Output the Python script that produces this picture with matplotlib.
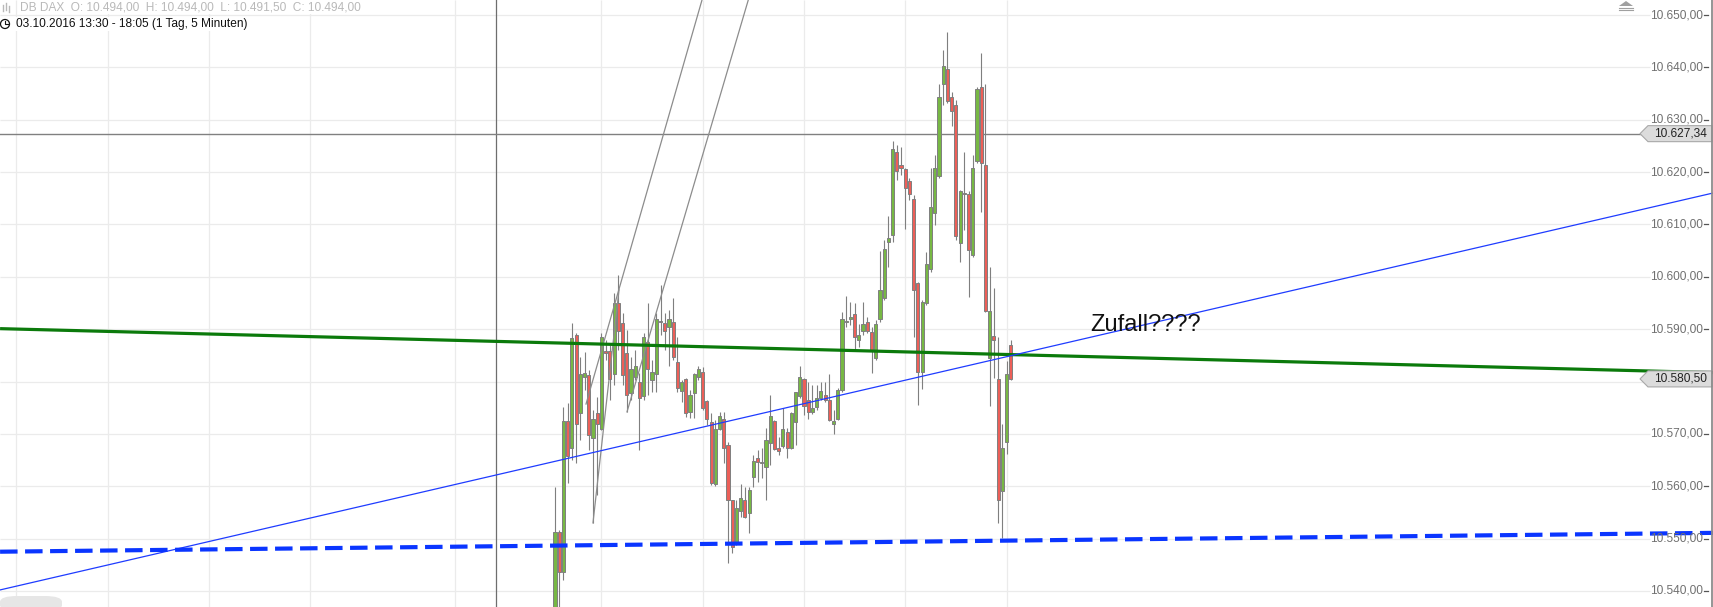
import numpy as np
import matplotlib
matplotlib.use('Agg')
import matplotlib.pyplot as plt
import matplotlib.transforms as mtransforms
from matplotlib.patches import Polygon, Ellipse, FancyBboxPatch

plt.rcParams['font.family'] = ['Liberation Sans', 'DejaVu Sans']

W, H = 1713, 607

# 5 minute candles of DB DAX, index 0 = first candle on the chart
opens = [
    10532.0, 10551.3, 10543.6, 10572.5, 10567.3, 10588.9, 10574.0, 10580.9, 10581.3, 10569.2,
    10574.0, 10571.0, 10585.9, 10585.9, 10581.5, 10595.0, 10591.2, 10585.5, 10577.8, 10580.9,
    10579.9, 10577.3, 10587.6, 10580.3, 10581.5, 10591.4, 10591.2, 10590.4, 10591.4, 10583.8,
    10578.2, 10580.5, 10574.2, 10577.8, 10580.9, 10581.8, 10576.3, 10572.3, 10560.5, 10571.0,
    10572.9, 10567.9, 10557.4, 10549.2, 10555.3, 10557.4, 10554.9, 10561.8, 10565.4, 10564.4,
    10563.7, 10568.3, 10572.5, 10567.3, 10567.7, 10570.4, 10567.3, 10572.3, 10577.3, 10580.5,
    10576.5, 10574.2, 10575.2, 10576.9, 10577.5, 10576.5, 10571.9, 10572.9, 10578.4, 10591.4,
    10592.0, 10592.9, 10588.0, 10589.7, 10591.4, 10589.5, 10584.5, 10592.0, 10596.0, 10606.7,
    10608.0, 10623.9, 10621.4, 10620.6, 10618.3, 10614.9, 10598.8, 10581.8, 10595.0, 10601.5,
    10612.2, 10619.3, 10636.9, 10639.7, 10634.4, 10632.8, 10606.5, 10615.9, 10615.8, 10604.2,
    10622.2, 10636.3, 10621.4, 10584.5, 10588.7, 10580.5, 10559.1, 10568.5, 10587.0]
highs = [
    10559.9, 10551.7, 10575.2, 10575.9, 10591.2, 10589.3, 10584.7, 10585.7, 10582.2, 10574.6,
    10577.1, 10589.3, 10588.0, 10587.0, 10597.0, 10600.4, 10593.1, 10589.9, 10584.7, 10586.0,
    10581.7, 10589.3, 10595.0, 10584.1, 10593.1, 10598.5, 10593.1, 10593.7, 10596.0, 10588.5,
    10580.3, 10580.7, 10578.4, 10581.7, 10583.0, 10582.8, 10576.5, 10574.0, 10572.7, 10574.2,
    10574.2, 10568.5, 10557.4, 10557.4, 10560.4, 10559.9, 10559.9, 10566.0, 10566.9, 10567.3,
    10571.2, 10577.5, 10572.7, 10569.5, 10575.0, 10571.2, 10574.2, 10578.0, 10583.0, 10580.7,
    10579.9, 10579.4, 10579.4, 10579.9, 10579.9, 10581.5, 10574.6, 10578.8, 10593.3, 10596.4,
    10595.2, 10595.0, 10591.0, 10595.2, 10592.4, 10590.4, 10591.8, 10605.0, 10607.1, 10611.6,
    10626.0, 10625.2, 10624.8, 10620.8, 10618.9, 10615.7, 10599.0, 10595.6, 10604.8, 10620.8,
    10623.3, 10636.9, 10643.3, 10646.8, 10635.3, 10633.8, 10616.6, 10623.9, 10616.4, 10623.3,
    10636.3, 10642.8, 10636.9, 10601.9, 10597.9, 10588.5, 10571.9, 10583.9, 10587.9]
lows = [
    10530.0, 10532.0, 10542.1, 10560.6, 10565.0, 10564.5, 10568.9, 10578.4, 10566.9, 10553.0,
    10558.4, 10570.8, 10584.1, 10576.5, 10579.4, 10586.0, 10579.4, 10574.2, 10576.5, 10580.3,
    10566.9, 10576.5, 10577.5, 10578.0, 10578.0, 10588.9, 10586.0, 10583.0, 10584.1, 10578.0,
    10576.1, 10573.3, 10573.1, 10573.1, 10580.3, 10574.6, 10571.7, 10560.3, 10560.1, 10570.8,
    10564.5, 10545.4, 10547.3, 10548.8, 10554.2, 10554.0, 10551.1, 10559.9, 10560.8, 10561.6,
    10557.4, 10564.1, 10566.9, 10566.0, 10567.3, 10565.4, 10567.1, 10567.9, 10576.9, 10573.6,
    10572.9, 10573.8, 10574.6, 10576.5, 10576.1, 10572.5, 10570.0, 10572.7, 10578.0, 10590.4,
    10590.8, 10586.0, 10586.6, 10588.9, 10589.3, 10581.7, 10584.1, 10591.4, 10595.6, 10601.9,
    10606.7, 10618.5, 10619.5, 10609.2, 10614.7, 10588.5, 10575.5, 10578.6, 10594.6, 10600.9,
    10609.9, 10618.9, 10632.8, 10633.2, 10628.8, 10607.1, 10602.9, 10609.0, 10596.2, 10603.8,
    10621.8, 10612.4, 10593.3, 10575.3, 10580.7, 10553.0, 10550.1, 10566.2, 10580.3]
closes = [
    10551.3, 10543.6, 10572.5, 10565.8, 10588.3, 10571.9, 10581.5, 10581.7, 10569.8, 10572.9,
    10571.9, 10588.5, 10585.5, 10580.5, 10595.0, 10589.7, 10581.3, 10577.5, 10582.4, 10583.0,
    10576.9, 10588.5, 10582.4, 10581.8, 10592.0, 10591.6, 10589.7, 10592.0, 10584.7, 10578.8,
    10579.9, 10574.0, 10577.5, 10581.5, 10582.4, 10575.0, 10572.9, 10560.6, 10571.0, 10573.4,
    10567.3, 10557.4, 10548.4, 10555.9, 10557.8, 10554.2, 10559.3, 10564.9, 10564.7, 10564.6,
    10568.9, 10573.4, 10567.1, 10566.8, 10571.0, 10567.3, 10574.0, 10578.0, 10580.9, 10575.4,
    10574.2, 10575.0, 10576.9, 10578.2, 10576.5, 10572.7, 10572.5, 10578.4, 10592.0, 10591.5,
    10592.4, 10588.5, 10588.9, 10591.0, 10589.7, 10585.9, 10591.0, 10597.5, 10605.3, 10607.4,
    10624.4, 10620.2, 10620.8, 10617.0, 10615.8, 10597.5, 10581.8, 10595.2, 10602.5, 10613.4,
    10620.8, 10634.4, 10640.3, 10633.6, 10631.7, 10607.8, 10616.4, 10615.8, 10605.1, 10620.8,
    10635.9, 10621.8, 10593.5, 10593.5, 10588.0, 10557.4, 10567.3, 10581.5, 10580.5]

price_ticks = [10540, 10550, 10560, 10570, 10580, 10590, 10600, 10610, 10620, 10630, 10640, 10650]
time_grid = [-127.7, -105.9, -82.0, -58.1, -23.7, 11, 35, 59, 83, 107]

# drawings on the chart, (candle index, price)
green_x, green_y = [-131.5, 274.4], [10590.1, 10581.7]
blue_x, blue_y = [-131.5, 274.4], [10540.2, 10616.0]
dash_x, dash_y = [-131.5, 274.4], [10547.5, 10551.1]
chan1_x, chan1_y = [7.35, 36.2], [10575.7, 10656.7]
chan2_x, chan2_y = [17.06, 47.2], [10574.2, 10656.7]
legA_x, legA_y = [9.0, 15.17], [10553.0, 10597.5]
cross_x, cross_y = -14.0, 10627.34
green_label = 10580.50
note_x, note_y = 126.8, 10589.7

header1 = "DB DAX  O: 10.494,00  H: 10.494,00  L: 10.491,50  C: 10.494,00"
header2 = "03.10.2016 13:30 - 18:05 (1 Tag, 5 Minuten)"


def de_fmt(v):
    s = f"{v:,.2f}"
    return s.replace(',', 'X').replace('.', ',').replace('X', '.')


fig = plt.figure(figsize=(W / 100, H / 100), dpi=100)
ax = fig.add_axes([0, 0, 1, 1])
ax.set_xlim(-555 / 4.22, (W - 555) / 4.22)
ax.set_ylim(10536.94, 10652.865)
ax.axis('off')
trans = mtransforms.blended_transform_factory(ax.transAxes, ax.transData)

# grid
ax.hlines(price_ticks, 0, 1650 / W, transform=trans, color='#ebebeb', lw=0.9, zorder=0)
ax.vlines(time_grid, 10536.94, 10652.865, color='#ebebeb', lw=0.9, zorder=0)

# candles
o = np.array(opens)
c = np.array(closes)
x = np.arange(len(o))
up = c >= o
bottoms = np.minimum(o, c)
heights = np.maximum(np.abs(c - o), 0.25)
ax.vlines(x, lows, highs, color='#7f7f7f', lw=0.8, zorder=2)
ax.bar(x[up], heights[up], bottom=bottoms[up], width=0.74, color='#77b844',
       edgecolor='#7f7f7f', linewidth=0.7, zorder=3)
ax.bar(x[~up], heights[~up], bottom=bottoms[~up], width=0.74, color='#ec5f58',
       edgecolor='#7f7f7f', linewidth=0.7, zorder=3)

# crosshair
ax.axvline(cross_x, color='#6e6e6e', lw=0.9, zorder=1)
ax.plot([0, 1641 / W], [cross_y, cross_y], transform=trans, color='#808080', lw=1.0, zorder=1)

# drawn lines
ax.plot(chan1_x, chan1_y, color='#8c8c8c', lw=0.9, zorder=4)
ax.plot(chan2_x, chan2_y, color='#8c8c8c', lw=0.9, zorder=4)
ax.plot(legA_x, legA_y, color='#8c8c8c', lw=0.9, zorder=4)
ax.plot(green_x, green_y, color='#0b7a0b', lw=2.3, zorder=4, solid_capstyle='butt')
ax.plot(blue_x, blue_y, color='#1f3cff', lw=0.9, zorder=4)
ax.plot(dash_x, dash_y, color='#0a35ff', lw=3.0, dashes=(4.2, 1.8), zorder=4)

ax.text(note_x, note_y, "Zufall????", fontsize=17, color='#111111', ha='left',
        va='baseline', zorder=6)

# value boxes on the right
boxes = [cross_y, green_label]
hh = 8 / 5.236
for v in boxes:
    pts = [(1640 / W, v), (1648 / W, v + hh), (1712 / W, v + hh),
           (1712 / W, v - hh), (1648 / W, v - hh)]
    ax.add_patch(Polygon(pts, closed=True, transform=trans, fc='#dcdcdc',
                         ec='#a8a8a8', lw=0.8, zorder=6))
    ax.text(1707 / W, v, de_fmt(v), transform=trans, ha='right', va='center',
            fontsize=8.6, color='#222222', zorder=7)

# price axis labels (a label hidden under a value box is not shown)
for p in price_ticks:
    ax.plot([1704 / W, 1708 / W], [p, p], transform=trans, color='#555555', lw=0.9, zorder=5)
    if min(abs(p - v) for v in boxes) < 2.0:
        continue
    ax.text(1703 / W, p, de_fmt(p), transform=trans, ha='right', va='center',
            fontsize=8.6, color='#707070', zorder=5)

# right border
ax.plot([1711.5 / W, 1711.5 / W], [0, 1], transform=ax.transAxes, color='#8c8c8c', lw=1.3, zorder=6)

# scroll icon top right
ax.add_patch(Polygon([(1619 / W, 1 - 6 / H), (1633 / W, 1 - 6 / H), (1626 / W, 1 - 1 / H)],
                     closed=True, transform=ax.transAxes, fc='#a0a0a0', ec='none', zorder=6))
for yy in [8, 10]:
    ax.plot([1619 / W, 1633 / W], [1 - yy / H] * 2, transform=ax.transAxes,
            color='#a0a0a0', lw=0.8, zorder=6)

# scroll tab bottom left
ax.add_patch(FancyBboxPatch((0, -4 / H), 62 / W, 15 / H, boxstyle='round,pad=0,rounding_size=0.01',
                            transform=ax.transAxes, fc='#e6e6e6', ec='none', zorder=6))

# header
ax.text(20 / W, 1 - 7 / H, header1, transform=ax.transAxes, ha='left', va='center',
        fontsize=8.6, color='#b9b9b9', zorder=7,
        bbox=dict(fc='white', ec='none', pad=1))
for bx, b0, b1 in [(3, 5, 11), (6, 3, 10), (9, 6, 12)]:
    ax.plot([bx / W, bx / W], [1 - b0 / H, 1 - b1 / H], transform=ax.transAxes,
            color='#b9b9b9', lw=1.0, zorder=7)
ax.text(16 / W, 1 - 24 / H, header2, transform=ax.transAxes, ha='left', va='center',
        fontsize=8.6, color='#111111', zorder=7,
        bbox=dict(fc='white', ec='none', pad=1))
ax.add_patch(Ellipse((5 / W, 1 - 24 / H), 9 / W, 9 / H, transform=ax.transAxes,
                     fc='none', ec='#111111', lw=0.9, zorder=7))
ax.plot([5 / W, 5 / W, 8 / W], [1 - 21 / H, 1 - 24 / H, 1 - 24 / H], transform=ax.transAxes,
        color='#111111', lw=0.8, zorder=7)

fig.savefig('out.png', dpi=100, facecolor='white')
